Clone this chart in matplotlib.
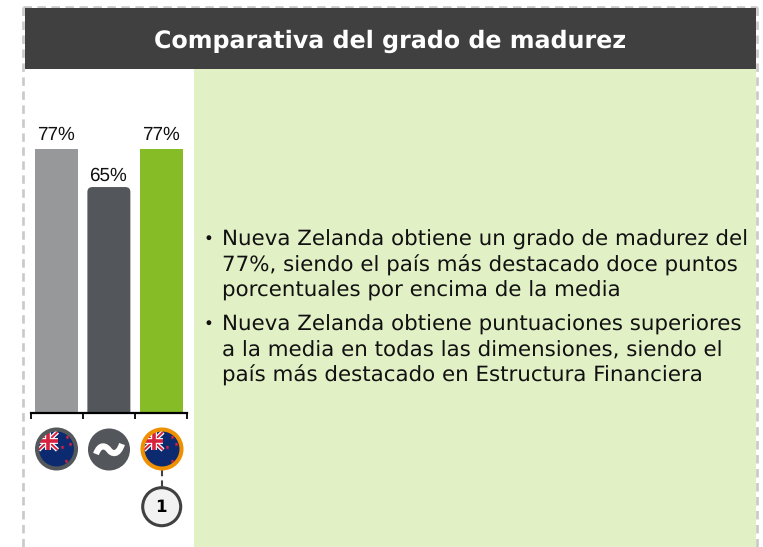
import matplotlib
matplotlib.use('Agg')
import matplotlib.pyplot as plt
from matplotlib.patches import Circle, FancyBboxPatch, PathPatch, Rectangle
from matplotlib.path import Path

plt.rcParams['text.hinting'] = 'no_hinting'

W, H = 763, 547

# Data
categories = ['Nueva Zelanda', 'Media', 'Nueva Zelanda (destacado)']
bar_heights = [77, 65.9, 77]
bar_labels = ['77%', '65%', '77%']
bar_colors = ['#97989a', '#53565a', '#86bc25']

title = 'Comparativa del grado de madurez'
bullets = [
    ['Nueva Zelanda obtiene un grado de madurez del',
     '77%, siendo el país más destacado doce puntos',
     'porcentuales por encima de la media'],
    ['Nueva Zelanda obtiene puntuaciones superiores',
     'a la media en todas las dimensiones, siendo el',
     'país más destacado en Estructura Financiera'],
]

DARK = '#404040'
DASH = '#c9c9c9'
PANEL = '#e2f0c6'
NAVY = '#0b2a6f'
RED = '#d6213f'


def draw_flag(ax, cx, cy, edge):
    clip = Circle((cx, cy), 19.5, transform=ax.transData)
    ax.add_patch(Circle((cx, cy), 19.5, fc=NAVY, ec='none', zorder=3))
    # canton
    x0, x1, y0, y1 = cx - 18, cx + 1, cy - 17, cy + 1
    xm, ym = (x0 + x1) / 2, (y0 + y1) / 2
    jack = [
        ax.plot([x0, x1], [y0, y1], color='white', lw=3.2, zorder=4)[0],
        ax.plot([x0, x1], [y1, y0], color='white', lw=3.2, zorder=4)[0],
        ax.plot([x0, x1], [y0, y1], color=RED, lw=1.4, zorder=5)[0],
        ax.plot([x0, x1], [y1, y0], color=RED, lw=1.4, zorder=5)[0],
        ax.plot([xm, xm], [y0, y1], color='white', lw=4.2, zorder=6)[0],
        ax.plot([x0, x1], [ym, ym], color='white', lw=4.2, zorder=6)[0],
        ax.plot([xm, xm], [y0, y1], color=RED, lw=2.6, zorder=7)[0],
        ax.plot([x0, x1], [ym, ym], color=RED, lw=2.6, zorder=7)[0],
    ]
    for ln in jack:
        ln.set_clip_path(clip)
        ln.set_solid_capstyle('butt')
    # southern cross
    for dx, dy in [(5, -2), (13.5, -5), (10, -12), (9.5, 12)]:
        ax.plot(cx + dx, cy + dy, marker='*', ms=3.6, mfc=RED, mec='none', zorder=5)
    ax.add_patch(Circle((cx, cy), 19.5, fc='none', ec=edge, lw=2.9, zorder=8))


fig = plt.figure(figsize=(W / 100, H / 100), dpi=100, facecolor='white')

# overlay in pixel coordinates for the slide furniture
bg = fig.add_axes([0, 0, 1, 1])
bg.set_xlim(0, W)
bg.set_ylim(H, 0)
bg.axis('off')

bg.add_patch(Rectangle((194, 69), 562, H - 69, fc=PANEL, ec='none'))
bg.add_patch(Rectangle((25, 8), 731, 61, fc=DARK, ec='none', zorder=2))
for xs, ys in [([23, 23], [7, H]), ([757, 757], [7, H]), ([23, 757], [7, 7])]:
    bg.plot(xs, ys, color=DASH, lw=1.9, linestyle=(0, (3.2, 2.1)), zorder=1)

bg.text(390, 41.5, title, color='white', fontsize=17.07, fontweight='bold',
        family='DejaVu Sans', ha='center', va='center', zorder=3)

# bullets
line_y = [[239.5, 265.5, 290.5], [324.5, 350.5, 375.5]]
for block, ys in zip(bullets, line_y):
    bg.text(208, ys[0], '•', fontsize=12, family='DejaVu Sans', color='#111111', ha='center', va='center')
    for line, y in zip(block, ys):
        bg.text(222, y, line, fontsize=15.39, family='DejaVu Sans', color='#111111', ha='left', va='center')

# bars
px_per_unit = 264 / 77
ax = fig.add_axes([30.5 / W, (H - 413) / H, 156.75 / W, 344 / H])
ax.patch.set_alpha(0)
ax.set_xlim(-0.5, 2.5)
ax.set_ylim(0, 344 / px_per_unit)
x = list(range(len(categories)))
bars = ax.bar(x, bar_heights, width=43 / 52.25, color=bar_colors)
for rect, lab, pad in zip(bars, bar_labels, [4.0, 2.0, 4.0]):
    ax.annotate(lab, (rect.get_x() + rect.get_width() / 2 - 0.01, rect.get_height()),
                xytext=(0, pad), textcoords='offset points', ha='center', va='bottom',
                fontsize=13.6, family='Liberation Sans', color='#111111')

# middle bar has rounded corners
mid = bars[1]
mid.set_visible(False)
r = 5 / 52.25
ax.add_patch(FancyBboxPatch((mid.get_x(), -3), mid.get_width(), mid.get_height() + 3,
                            boxstyle=f'round,pad=0,rounding_size={r}',
                            mutation_aspect=(5 / px_per_unit) / r,
                            fc=bar_colors[1], ec='none'))

for s in ['top', 'left', 'right']:
    ax.spines[s].set_visible(False)
ax.spines['bottom'].set_linewidth(1.6)
ax.spines['bottom'].set_color('black')
ax.set_yticks([])
ax.set_xticks([-0.5, 0.5, 1.5, 2.5])
ax.set_xticklabels([])
ax.tick_params(axis='x', direction='out', length=4.5, width=1.3, color='black')

# icons under the bars
top = fig.add_axes([0, 0, 1, 1])
top.set_xlim(0, W)
top.set_ylim(H, 0)
top.axis('off')
top.patch.set_alpha(0)

draw_flag(top, 56.5, 449, '#55585a')
top.add_patch(Circle((109, 449.5), 21, fc='#53565a', ec='none', zorder=3))
# tilde
cx, cy = 109, 450
tilde = Path([(cx - 13, cy + 4), (cx - 9, cy - 7), (cx - 3, cy - 4), (cx, cy),
              (cx + 3, cy + 4), (cx + 9, cy + 6), (cx + 13, cy - 6)],
             [Path.MOVETO, Path.CURVE4, Path.CURVE4, Path.CURVE4, Path.CURVE4, Path.CURVE4, Path.CURVE4])
top.add_patch(PathPatch(tilde, fc='none', ec='white', lw=4.4, capstyle='butt', zorder=4))
draw_flag(top, 162, 449, '#ef9000')

top.plot([162, 162], [470, 487], color=DARK, lw=1.5, linestyle=(0, (3, 2)), zorder=2)
top.add_patch(Circle((161.7, 506.7), 19, fc='#f2f2f2', ec=DARK, lw=2.2, zorder=3))
top.text(161.2, 507.7, '1', color='black', fontsize=12, fontweight='bold', family='DejaVu Sans',
         ha='center', va='center', zorder=4)

fig.savefig('out.png', dpi=100, facecolor='white')
plt.close(fig)
